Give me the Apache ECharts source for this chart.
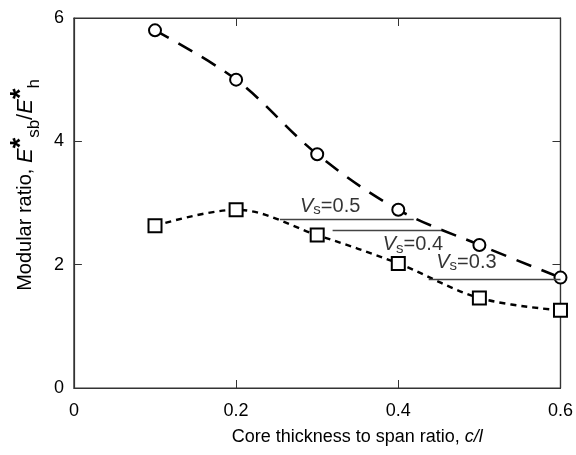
<!DOCTYPE html>
<html>
<head>
<meta charset="utf-8">
<script src="https://cdn.jsdelivr.net/npm/echarts@6/dist/echarts.min.js"></script>
<style>
  html, body { margin: 0; padding: 0; background: #fff; }
  #chart { width: 576px; height: 455px; }
</style>
</head>
<body>
<div id="chart"></div>
<script>
// c/l values shared by both curves
const ratioX = [0.1, 0.2, 0.3, 0.4, 0.5, 0.6];
// circles (upper dashed curve)
const circleY = [5.8, 5.0, 3.79, 2.89, 2.32, 1.79];
// squares (lower dotted curve)
const squareY = [2.63, 2.89, 2.48, 2.02, 1.46, 1.26];

// V_s marker lines and labels
const vsValues = ['0.5', '0.4', '0.3'];
const vsLineY = [2.73, 2.56, 1.77];
const vsLineX0 = [0.254, 0.319, 0.4375];
const vsLineX1 = [0.419, 0.453, 0.6];
const vsLabelX = [0.316, 0.418, 0.484];
const vsLabelY = [2.95, 2.32, 2.04];

const font = 'Liberation Sans';
const axisColor = '#333';

const chart = echarts.init(document.getElementById('chart'));

const pair = (a, b) => a.map((v, i) => [v, b[i]]);

const markLines = vsLineY.map((y, i) => [
    { coord: [vsLineX0[i], y] },
    { coord: [vsLineX1[i], y] }
]);

const vsPoints = vsValues.map((v, i) => ({
    value: [vsLabelX[i], vsLabelY[i]],
    name: v
}));

const frameAxis = {
    min: 0,
    axisLine: { show: true, onZero: false, lineStyle: { color: axisColor, width: 1.2 } },
    axisTick: { show: true, inside: true, length: 8, lineStyle: { color: axisColor, width: 1 } },
    splitLine: { show: false }
};

const option = {
    animation: false,
    grid: { left: 72, right: 14, top: 18, bottom: 67, show: true, borderColor: axisColor, borderWidth: 1.2 },
    xAxis: [{
        ...frameAxis,
        type: 'value',
        max: 0.6,
        interval: 0.2,
        axisLabel: {
            color: '#000', fontFamily: font, fontSize: 18, margin: 14,
            formatter: v => (v === 0 ? '0' : v.toFixed(1))
        },
        name: 'Core thickness to span ratio, {i|c/l}',
        nameLocation: 'middle',
        nameGap: 40,
        nameTextStyle: {
            color: '#000', fontFamily: font, fontSize: 18,
            padding: [0, 0, 0, 80],
            rich: { i: { fontStyle: 'italic', fontFamily: font, fontSize: 18, color: '#000' } }
        }
    }, {
        ...frameAxis,
        type: 'value',
        position: 'top',
        max: 0.6,
        interval: 0.2,
        axisLabel: { show: false }
    }],
    yAxis: [{
        ...frameAxis,
        type: 'value',
        max: 6,
        interval: 2,
        axisLabel: { color: '#000', fontFamily: font, fontSize: 18, margin: 10 },
        name: 'Modular ratio, {e|E}{sup|*}{sub|sb}{n|/}{e|E}{sup|*}{sub|h}',
        nameLocation: 'middle',
        nameRotate: 90,
        nameGap: 30,
        nameTextStyle: {
            color: '#000', fontFamily: font, fontSize: 20,
            padding: [0, 0, 0, 36],
            rich: {
                e: { fontStyle: 'italic', fontFamily: font, fontSize: 22, color: '#000' },
                n: { fontFamily: font, fontSize: 22, color: '#000' },
                sup: { fontFamily: font, fontSize: 27, fontWeight: 'bold', color: '#000', verticalAlign: 'top', padding: [0, 0, 8, 0] },
                sub: { fontFamily: font, fontSize: 17, color: '#000', verticalAlign: 'bottom', padding: [9, 0, 0, 0] }
            }
        }
    }, {
        ...frameAxis,
        type: 'value',
        position: 'right',
        max: 6,
        interval: 2,
        axisLabel: { show: false }
    }],
    series: [{
        name: 'circle',
        type: 'line',
        smooth: 0.35,
        data: pair(ratioX, circleY),
        symbol: 'emptyCircle',
        symbolSize: 12,
        itemStyle: { color: '#000', borderColor: '#000', borderWidth: 2.2 },
        lineStyle: { color: '#000', width: 2.6, type: [16, 11] },
        z: 3
    }, {
        name: 'square',
        type: 'line',
        smooth: 0.35,
        data: pair(ratioX, squareY),
        symbol: 'emptyRect',
        symbolSize: 13,
        itemStyle: { color: '#000', borderColor: '#000', borderWidth: 2.2 },
        lineStyle: { color: '#000', width: 2.4, type: [6, 5] },
        markLine: {
            silent: true,
            symbol: 'none',
            label: { show: false },
            lineStyle: { color: '#444', width: 1.4, type: 'solid' },
            data: markLines
        },
        z: 3
    }, {
        name: 'vs',
        type: 'scatter',
        data: vsPoints,
        symbolSize: 0,
        label: {
            show: true,
            position: 'inside',
            formatter: p => '{v|V}{s|s}{t|=' + p.name + '}',
            rich: {
                v: { fontFamily: font, fontStyle: 'italic', fontSize: 20, color: '#000' },
                s: { fontFamily: font, fontSize: 15, color: '#000', verticalAlign: 'bottom', padding: [8, 0, 0, 0] },
                t: { fontFamily: font, fontSize: 20, color: '#000' }
            }
        },
        z: 4
    }, {
        // keeps the top/right frame axes active
        name: 'frame',
        type: 'line',
        xAxisIndex: 1,
        yAxisIndex: 1,
        data: []
    }]
};

chart.setOption(option);
</script>
</body>
</html>
